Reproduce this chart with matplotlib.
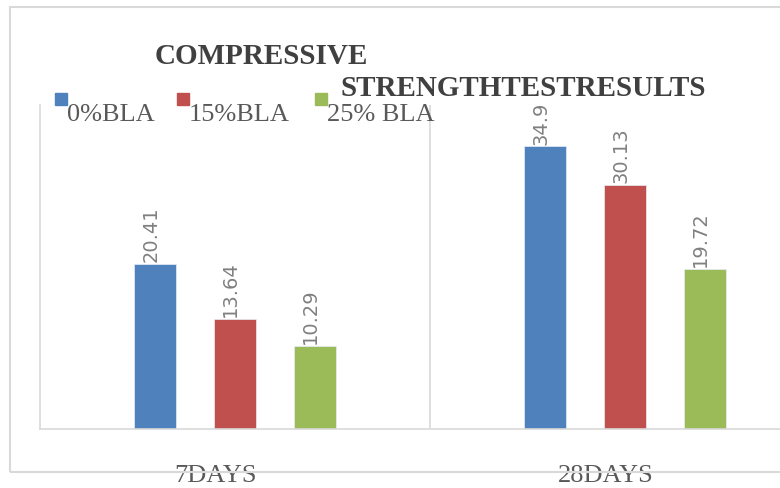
import matplotlib
matplotlib.use("Agg")
import matplotlib.pyplot as plt
from matplotlib.patches import Rectangle
import numpy as np

# data
categories = ["7DAYS", "28DAYS"]
series_names = ["0%BLA", "15%BLA", "25% BLA"]
values_0 = [20.41, 34.9]
values_15 = [13.64, 30.13]
values_25 = [10.29, 19.72]
labels_0 = ["20.41", "34.9"]
labels_15 = ["13.64", "30.13"]
labels_25 = ["10.29", "19.72"]

colors = ["#4F81BD", "#C0504D", "#9BBB59"]
grid_col = "#d9d9d9"
W, H = 780, 489


def fx(px):
    return px / W


def fy(py):
    return 1 - py / H


fig = plt.figure(figsize=(7.8, 4.89), dpi=100)

# outer chart border (runs off the right edge)
fig.patches.append(Rectangle((fx(10), fy(473)), 1.2, fy(8) - fy(473),
                             transform=fig.transFigure, fill=False,
                             edgecolor=grid_col, lw=1.5))

# plot area: x from 40px to 820px (past the right edge), y from 106 to 430
ax = fig.add_axes([fx(40), fy(430), 780 / W, (430 - 106) / H])
ax.set_xlim(-0.5, 1.5)
ax.set_ylim(0, 40)
for s in ["top", "right"]:
    ax.spines[s].set_visible(False)
for s in ["left", "bottom"]:
    ax.spines[s].set_color(grid_col)
    ax.spines[s].set_linewidth(1.2)
ax.axvline(0.5, color=grid_col, lw=1.2)
ax.set_xticks([])
ax.set_yticks([])
ax.patch.set_alpha(0)

x = np.arange(len(categories))
offset = 0.205
width = 0.108
series = [(values_0, labels_0), (values_15, labels_15), (values_25, labels_25)]
for i, (vals, labs) in enumerate(series):
    xs = x + (i - 1) * offset
    ax.bar(xs, vals, width=width, color=colors[i], edgecolor="#e8eef6", lw=0.5,
           zorder=2)
    for xi, v, lab in zip(xs, vals, labs):
        ax.annotate(lab, (xi, v), xytext=(-3, 2), textcoords="offset points",
                    rotation=90, ha="center", va="bottom", fontsize=14,
                    color="#808080", family="DejaVu Sans", zorder=1)

# category labels
for xi, c in zip(x, categories):
    ax.text(xi - 0.05, -46 / 324 * 40 / 40, c, transform=ax.get_xaxis_transform(),
            ha="center", va="center", fontsize=19, color="#595959",
            family="Liberation Serif")

# title
fig.text(fx(155), fy(57), "COMPRESSIVE", ha="left", va="center",
         fontsize=21, fontweight="bold", color="#404040",
         family="Liberation Serif")
fig.text(fx(340), fy(88), "STRENGTHTESTRESULTS", ha="left", va="center",
         fontsize=21, fontweight="bold", color="#404040",
         family="Liberation Serif")

# legend
legend_x = [55, 177, 315]
for lx, name, col in zip(legend_x, series_names, colors):
    fig.patches.append(Rectangle((fx(lx), fy(106)), fx(12), fy(94) - fy(106),
                                 transform=fig.transFigure, color=col))
    fig.text(fx(lx + 12), fy(115), name, ha="left", va="center",
             fontsize=19, color="#595959", family="Liberation Serif")

fig.savefig("out.png", dpi=100)
